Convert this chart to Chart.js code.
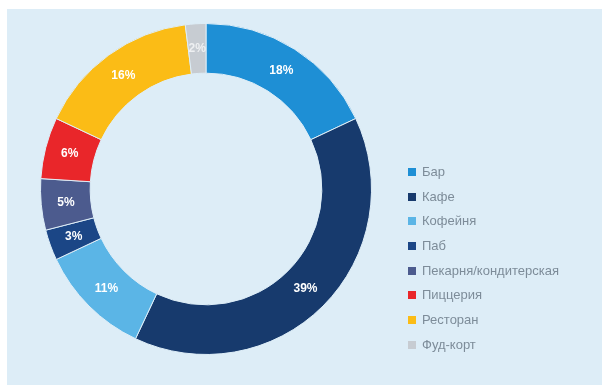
<!DOCTYPE html>
<html>
<head>
<meta charset="utf-8">
<script src="https://cdn.jsdelivr.net/npm/chart.js@4/dist/chart.umd.min.js"></script>
<style>
  html, body { margin: 0; padding: 0; background: #ffffff; }
  #panel { position: absolute; left: 7px; top: 9px; width: 595px; height: 376px; background: #ddedf7; }
  #panel canvas { position: absolute; left: 0; top: 0; }
  #legend { position: absolute; left: 401px; top: 157px; margin: 0; padding: 0; list-style: none;
            font-family: "Liberation Sans", Arial, sans-serif; font-size: 13px; color: #7d8c99; }
  #legend li { height: 24.7px; line-height: 12px; display: flex; align-items: flex-start; white-space: nowrap; }
  #legend span.box { width: 8px; height: 8px; margin: 2px 6px 0 0; flex: none; }
</style>
</head>
<body>
<div id="panel">
  <canvas id="chart" width="595" height="376"></canvas>
  <ul id="legend"></ul>
</div>
<script>
// Venue types and their shares, percent
const categories = ["Бар", "Кафе", "Кофейня", "Паб", "Пекарня/кондитерская", "Пиццерия", "Ресторан", "Фуд-корт"];
const shares = [18, 39, 11, 3, 5, 6, 16, 2];
const sliceColors = ["#1e8fd5", "#173a6d", "#5bb5e6", "#1b4686", "#4c5b8e", "#e9262a", "#fbbc16", "#c7ccd2"];

// Percent labels centred in each ring segment
const ringLabels = {
  id: "ringLabels",
  afterDatasetsDraw(chart) {
    const ctx = chart.ctx;
    const meta = chart.getDatasetMeta(0);
    ctx.save();
    ctx.font = "bold 12px 'Liberation Sans', Arial, sans-serif";
    ctx.textAlign = "center";
    ctx.textBaseline = "middle";
    meta.data.forEach((arc, i) => {
      const p = arc.tooltipPosition();
      ctx.fillStyle = i === 7 ? "rgba(255,255,255,0.7)" : "#ffffff";
      ctx.fillText(shares[i] + "%", p.x, p.y);
    });
    ctx.restore();
  }
};

new Chart(document.getElementById("chart"), {
  type: "doughnut",
  data: {
    labels: categories,
    datasets: [{
      data: shares,
      backgroundColor: sliceColors,
      borderColor: "#ddedf7",
      borderWidth: 1
    }]
  },
  options: {
    responsive: false,
    animation: false,
    cutout: "70%",
    layout: { padding: { left: 33, right: 230, top: 13, bottom: 29 } },
    plugins: {
      legend: { display: false },
      tooltip: { enabled: false }
    }
  },
  plugins: [ringLabels]
});

// Legend list built from the same arrays
const legend = document.getElementById("legend");
categories.forEach((name, i) => {
  const li = document.createElement("li");
  const box = document.createElement("span");
  box.className = "box";
  box.style.background = sliceColors[i];
  li.appendChild(box);
  li.appendChild(document.createTextNode(name));
  legend.appendChild(li);
});
</script>
</body>
</html>
